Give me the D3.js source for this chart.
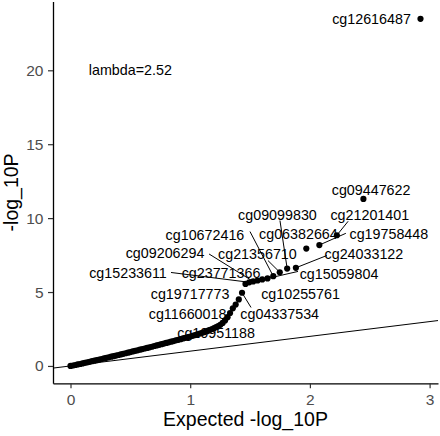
<!DOCTYPE html>
<html><head><meta charset="utf-8">
<script src="https://cdn.jsdelivr.net/npm/d3@7/dist/d3.min.js"></script>
<style>body{margin:0;background:#fff}svg{display:block}</style>
</head><body>
<svg id="chart" width="440" height="436"></svg>
<script>
// ---- data ----
const topProbes = ["cg12616487","cg09447622","cg21201401","cg19758448","cg06382664","cg24033122",
  "cg09099830","cg21356710","cg10672416","cg15059804","cg10255761","cg23771366",
  "cg09206294","cg15233611","cg19717773","cg04337534","cg11660018","cg10951188"];
const topExpected = [2.924,2.447,2.225,2.079,1.970,1.883,1.810,1.748,1.694,1.646,1.602,1.563,
  1.526,1.493,1.462,1.433,1.406,1.380];
const topObserved = [23.48,11.30,8.84,8.18,7.94,6.64,6.59,6.34,6.07,5.92,5.85,5.78,
  5.72,5.66,5.55,4.95,4.50,4.15];
const bulkExpected = [1.356,1.333,1.312,1.291,1.271,1.252,1.234,1.217,1.200,1.184,1.168,1.154,
  1.14,1.12,1.10,1.08,1.06,1.04,1.02,1.00,0.98,0.96,0.94,0.92,0.90,0.88,0.86,0.84,0.82,0.80,
  0.78,0.76,0.74,0.72,0.70,0.68,0.66,0.64,0.62,0.60,0.58,0.56,0.54,0.52,0.50,0.48,0.46,0.44,
  0.42,0.40,0.38,0.36,0.34,0.32,0.30,0.28,0.26,0.24,0.22,0.20,0.18,0.16,0.14,0.12,0.10,0.08,
  0.06,0.04,0.02,0.00];
const bulkObserved = [3.90,3.58,3.30,3.08,2.91,2.78,2.69,2.62,2.56,2.50,2.45,2.40,
  2.35,2.29,2.24,2.19,2.14,2.09,2.04,1.99,1.95,1.90,1.86,1.81,1.77,1.73,1.68,1.64,1.60,1.56,
  1.51,1.47,1.43,1.39,1.35,1.30,1.26,1.22,1.18,1.14,1.10,1.06,1.02,0.98,0.94,0.90,0.86,0.82,
  0.78,0.74,0.70,0.66,0.625,0.585,0.55,0.51,0.47,0.43,0.39,0.355,0.32,0.28,0.245,0.21,0.17,0.13,
  0.10,0.065,0.03,0.00];
const xTicks = [0,1,2,3];
const yTicks = [0,5,10,15,20];
const lambdaText = "lambda=2.52";
const lambdaAt = [0.5, 20];
const xTitle = "Expected -log_10P";
const yTitle = "-log_10P";

// ---- label layout (pixel offsets of label centre from its point; optional leader start) ----
const labelLayout = [
  {dx:-49, dy:0}, {dx:7.7, dy:-9}, {dx:33, dy:-20.7, seg:[-21.7,6.7]},
  {dx:69.5, dy:-11.2, seg:[-43,-0.5]}, {dx:-7.9, dy:-14.5}, {dx:68, dy:-14, seg:[-37,1.7]},
  {dx:-9.7, dy:-54, seg:[2.5,6]}, {dx:-22.3, dy:-18.7, seg:[10.5,7]}, {dx:-68.3, dy:-41.7, seg:[45,-3]},
  {dx:71.5, dy:-4.5, seg:[-41,-2.5]}, {dx:38.3, dy:14.3}, {dx:-36.6, dy:-7.7},
  {dx:-88.1, dy:-27.9, seg:[44,0.5]}, {dx:-121.2, dy:-9.5, seg:[43,-0.3]}, {dx:-55.4, dy:10.1},
  {dx:37.7, dy:21, seg:[-28.7,-6.3]}, {dx:-51.2, dy:14.3}, {dx:-19.6, dy:28.3}
];

const FONT = "'Liberation Sans', Arial, Helvetica, sans-serif";
const panel = {left:53, right:438, top:1.5, bottom:383.3};

const allX = topExpected.concat(bulkExpected);
const allY = topObserved.concat(bulkObserved);
const [x0,x1] = d3.extent(allX), [y0,y1] = d3.extent(allY);
const xr = x1-x0, yr = y1-y0;
const x = d3.scaleLinear().domain([x0-0.05*xr, x1+0.05*xr]).range([panel.left, panel.right]);
const y = d3.scaleLinear().domain([y0-0.05*yr, y1+0.05*yr]).range([panel.bottom, panel.top]);

const svg = d3.select("#chart");
svg.append("defs").append("clipPath").attr("id","clip").append("rect")
  .attr("x",panel.left).attr("y",panel.top)
  .attr("width",panel.right-panel.left).attr("height",panel.bottom-panel.top);

// reference line y = x
const xd = x.domain();
svg.append("line").attr("clip-path","url(#clip)")
  .attr("x1",x(xd[0])).attr("y1",y(xd[0])).attr("x2",x(xd[1])).attr("y2",y(xd[1]))
  .attr("stroke","#000").attr("stroke-width",1);

// points
const pts = bulkExpected.map((e,i)=>({e, o:bulkObserved[i]}))
  .concat(topExpected.map((e,i)=>({e, o:topObserved[i]})));
svg.append("g").selectAll("circle").data(pts).join("circle")
  .attr("cx",d=>x(d.e)).attr("cy",d=>y(d.o)).attr("r",3.1).attr("fill","#000");

// axes
const gx = svg.append("g").attr("transform",`translate(0,${panel.bottom})`)
  .call(d3.axisBottom(x).tickValues(xTicks).tickSize(5).tickSizeOuter(0).tickPadding(6).tickFormat(d3.format("d")));
const gy = svg.append("g").attr("transform",`translate(${panel.left},0)`)
  .call(d3.axisLeft(y).tickValues(yTicks).tickSize(5).tickSizeOuter(0).tickPadding(4.5).tickFormat(d3.format("d")));
[gx,gy].forEach(g=>{
  g.select(".domain").attr("stroke","#000").attr("stroke-width",1.3);
  g.selectAll(".tick line").attr("stroke","#333").attr("stroke-width",1.2);
  g.selectAll(".tick text").attr("fill","#4d4d4d").style("font-family",FONT).style("font-size","15.5px");
});

// lambda annotation
svg.append("text").attr("x",x(lambdaAt[0])).attr("y",y(lambdaAt[1])).attr("dy","0.35em")
  .attr("text-anchor","middle").style("font-family",FONT).style("font-size","14.3px")
  .attr("fill","#000").text(lambdaText);

// leader segments and labels
const lab = topProbes.map((p,i)=>({p, px:x(topExpected[i]), py:y(topObserved[i]), L:labelLayout[i]}));
svg.append("g").selectAll("line").data(lab.filter(d=>d.L.seg)).join("line")
  .attr("x1",d=>d.px+d.L.dx+d.L.seg[0]).attr("y1",d=>d.py+d.L.dy+d.L.seg[1])
  .attr("x2",d=>d.px).attr("y2",d=>d.py)
  .attr("stroke","#000").attr("stroke-width",1);
svg.append("g").selectAll("text").data(lab).join("text")
  .attr("x",d=>d.px+d.L.dx).attr("y",d=>d.py+d.L.dy).attr("dy","0.35em")
  .attr("text-anchor","middle").style("font-family",FONT).style("font-size","14.3px")
  .attr("fill","#000").text(d=>d.p);

// axis titles
svg.append("text").attr("x",(panel.left+panel.right)/2).attr("y",426)
  .attr("text-anchor","middle").style("font-family",FONT).style("font-size","19.5px")
  .attr("fill","#000").text(xTitle);
svg.append("text").attr("transform",`translate(18,${(panel.top+panel.bottom)/2}) rotate(-90)`)
  .attr("text-anchor","middle").style("font-family",FONT).style("font-size","19.5px")
  .attr("fill","#000").text(yTitle);
</script>
</body></html>
